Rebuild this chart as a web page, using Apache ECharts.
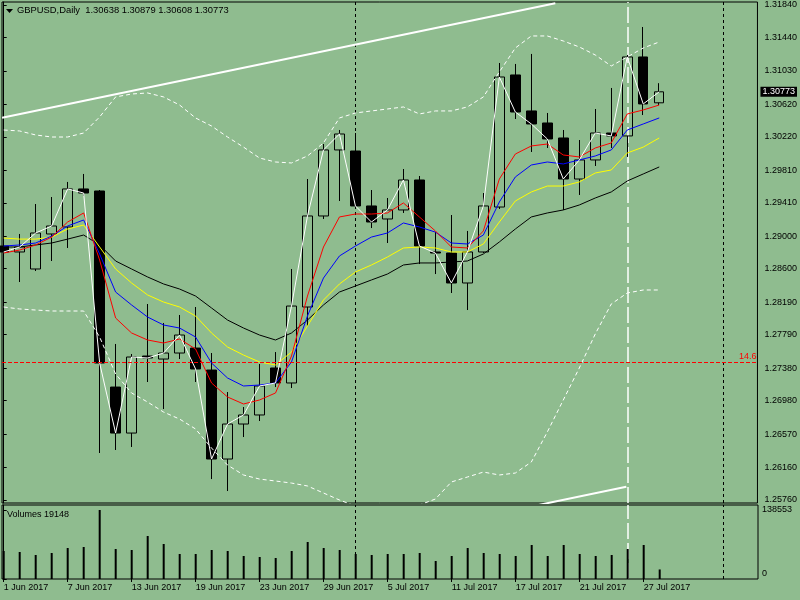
<!DOCTYPE html>
<html>
<head>
<meta charset="utf-8">
<title>GBPUSD,Daily</title>
<script src="https://cdn.jsdelivr.net/npm/echarts@6.0.0/dist/echarts.min.js"></script>
<style>
  html, body { margin: 0; padding: 0; background: #8fbc8f; }
  #main { width: 800px; height: 600px; }
</style>
</head>
<body>
<div id="main"></div>
<script>
// bars, 1 Jun - 28 Jul 2017
var dates = ['1 Jun 2017','2 Jun 2017','5 Jun 2017','6 Jun 2017','7 Jun 2017','8 Jun 2017','9 Jun 2017',
  '12 Jun 2017','13 Jun 2017','14 Jun 2017','15 Jun 2017','16 Jun 2017','19 Jun 2017','20 Jun 2017',
  '21 Jun 2017','22 Jun 2017','23 Jun 2017','26 Jun 2017','27 Jun 2017','28 Jun 2017','29 Jun 2017',
  '30 Jun 2017','3 Jul 2017','4 Jul 2017','5 Jul 2017','6 Jul 2017','7 Jul 2017','10 Jul 2017',
  '11 Jul 2017','12 Jul 2017','13 Jul 2017','14 Jul 2017','17 Jul 2017','18 Jul 2017','19 Jul 2017',
  '20 Jul 2017','21 Jul 2017','24 Jul 2017','25 Jul 2017','26 Jul 2017','27 Jul 2017','28 Jul 2017'];

var opens  = [1.28879,1.28806,1.28597,1.29027,1.29113,1.29580,1.29555,1.27147,1.26582,1.27528,1.27491,1.27565,1.27626,1.27356,
              1.26263,1.26693,1.26804,1.27381,1.27197,1.28130,1.29248,1.30059,1.30046,1.29371,1.29211,1.29322,1.29690,1.28806,
              1.28793,1.28425,1.28806,1.29358,1.30980,1.30538,1.30390,1.30206,1.29702,1.29936,1.30267,1.30231,1.31201,1.30638];
var highs  = [1.29137,1.29027,1.29395,1.29481,1.29666,1.29764,1.29567,1.27676,1.27553,1.28167,1.27934,1.28032,1.28130,1.27565,
              1.27086,1.26902,1.27430,1.27577,1.28597,1.29702,1.30132,1.30304,1.30267,1.29567,1.29469,1.29825,1.29739,1.29051,
              1.29260,1.29064,1.29530,1.31127,1.31115,1.31238,1.30513,1.30304,1.30181,1.30562,1.30820,1.31225,1.31569,1.30879];
var lows   = [1.28302,1.28437,1.28572,1.28695,1.28855,1.29494,1.26337,1.26374,1.26411,1.27209,1.26877,1.27491,1.27209,1.26017,
              1.25870,1.26533,1.26730,1.27147,1.27135,1.27897,1.29211,1.29432,1.29358,1.29100,1.28916,1.29285,1.28658,1.28535,
              1.28302,1.28093,1.28793,1.29334,1.30439,1.30034,1.30083,1.29322,1.29506,1.29862,1.30083,1.29973,1.30488,1.30608];
var closes = [1.28806,1.28867,1.29039,1.29125,1.29580,1.29530,1.27442,1.26582,1.27516,1.27504,1.27565,1.27786,1.27369,1.26263,
              1.26693,1.26804,1.27160,1.27197,1.28142,1.29248,1.30059,1.30255,1.29371,1.29174,1.29322,1.29690,1.28879,1.28793,
              1.28425,1.28806,1.29371,1.30955,1.30525,1.30378,1.30194,1.29702,1.29936,1.30267,1.30231,1.31201,1.30624,1.30773];

var volumes = [56200,54200,48200,52200,62200,64300,138553,60200,58200,86300,70300,50200,50200,58200,
               56200,46200,44200,42200,56200,74300,62200,58200,50200,48200,50200,50200,52200,36100,
               46200,62200,52200,50200,46200,68300,46200,68300,50200,46200,48200,60200,68300,19148];

// moving averages
var maRed    = [1.28793,1.28830,1.28892,1.28989,1.29174,1.29285,1.28707,1.27995,1.27811,1.27725,1.27688,1.27737,1.27614,1.27197,
                1.27025,1.26939,1.26988,1.27074,1.27528,1.28265,1.28867,1.29236,1.29272,1.29272,1.29285,1.29408,1.29236,1.29064,
                1.28867,1.28855,1.29064,1.29702,1.30009,1.30108,1.30132,1.29997,1.29973,1.30083,1.30145,1.30501,1.30550,1.30611];
var maBlue   = [1.28879,1.28892,1.28916,1.29001,1.29125,1.29199,1.28781,1.28314,1.28155,1.28007,1.27909,1.27872,1.27762,1.27442,
                1.27258,1.27160,1.27172,1.27197,1.27455,1.28020,1.28486,1.28757,1.28879,1.28989,1.29039,1.29162,1.29113,1.29050,
                1.28916,1.28904,1.29014,1.29420,1.29727,1.29874,1.29911,1.29887,1.29936,1.29985,1.30059,1.30304,1.30378,1.30452];
var maYellow = [1.28977,1.28964,1.28964,1.28989,1.29088,1.29137,1.28867,1.28597,1.28425,1.28278,1.28191,1.28130,1.28020,1.27811,
                1.27639,1.27540,1.27455,1.27418,1.27577,1.27897,1.28216,1.28413,1.28560,1.28646,1.28744,1.28855,1.28867,1.28855,
                1.28806,1.28806,1.28904,1.29174,1.29432,1.29543,1.29616,1.29616,1.29666,1.29776,1.29813,1.30022,1.30094,1.30206];
var maBlack  = [1.28867,1.28867,1.28892,1.28916,1.28964,1.29014,1.28892,1.28695,1.28597,1.28499,1.28413,1.28351,1.28265,1.28118,
                1.27970,1.27872,1.27786,1.27725,1.27811,1.27970,1.28155,1.28314,1.28388,1.28462,1.28535,1.28646,1.28671,1.28671,
                1.28683,1.28695,1.28781,1.28929,1.29088,1.29236,1.29285,1.29322,1.29383,1.29469,1.29543,1.29678,1.29764,1.29850];

// bollinger bands
var bandUpper = [1.30304,1.30292,1.30243,1.30218,1.30218,1.30267,1.30464,1.30710,1.30746,1.30759,1.30710,1.30611,1.30452,1.30353,
                 1.30218,1.30094,1.29960,1.29911,1.29899,1.29985,1.30145,1.30452,1.30513,1.30538,1.30562,1.30587,1.30501,1.30538,
                 1.30538,1.30587,1.30710,1.31017,1.31311,1.31459,1.31459,1.31397,1.31324,1.31225,1.31090,1.31201,1.31311,1.31385];
var bandLower = [1.28130,1.28106,1.28093,1.28081,1.28081,1.28081,1.27762,1.27307,1.27074,1.26963,1.26840,1.26754,1.26632,1.26398,
                 1.26189,1.26067,1.26017,1.25993,1.25968,1.25932,1.25846,1.25760,1.25686,1.25649,1.25637,1.25661,1.25698,1.25772,
                 1.25981,1.26042,1.26103,1.26067,1.26091,1.26226,1.26595,1.26988,1.27381,1.27799,1.28167,1.28302,1.28339,1.28339];

// drawn objects
var trendTop = [[-0.1, 1.30455], [34.5, 1.31860]];
var trendBottom = [[33, 1.25680], [38.94, 1.25923]];
var hLevel = 1.27455;
var separators = [22, 45];
var vLineWhite = 39;

// axis labels
var priceTicks = [1.31840,1.31440,1.31030,1.30620,1.30220,1.29810,1.29410,1.29000,1.28600,1.28190,1.27790,1.27380,1.26980,1.26570,1.26160,1.25760];
var volumeTicks = [0, 138553];
var labelBars = [0,4,8,12,16,20,24,28,32,36,40];

var font = 'Liberation Sans';
var bg = '#8fbc8f';

var candleData = dates.map(function (d, i) { return [i, opens[i], closes[i], lows[i], highs[i]]; });
function pairs(arr) { return arr.map(function (v, i) { return [i, v]; }); }

var myChart = echarts.init(document.getElementById('main'));

function maLine(name, data, color) {
  return {
    name: name, type: 'line', xAxisIndex: 0, yAxisIndex: 0,
    data: pairs(data), symbol: 'none', z: 4, silent: true,
    lineStyle: { color: color, width: 1 }
  };
}
function bandLine(name, data) {
  return {
    name: name, type: 'line', xAxisIndex: 0, yAxisIndex: 0,
    data: pairs(data), symbol: 'none', z: 4, silent: true,
    lineStyle: { color: '#fff', width: 1, type: [4, 3] }
  };
}
// period separators + white vertical line, used in both panels
function vLines() {
  return separators.map(function (x) {
    return { xAxis: x, lineStyle: { color: '#000', width: 1, type: [3, 3] } };
  }).concat([{ xAxis: vLineWhite, lineStyle: { color: '#fff', width: 1.5, type: [16, 4] } }]);
}

var xMin = -0.106, xMax = 47.144;

var option = {
  backgroundColor: bg,
  animation: false,
  title: [
    { text: 'GBPUSD,Daily  1.30638 1.30879 1.30608 1.30773', left: 17, top: 6, padding: 0,
      textStyle: { fontFamily: font, fontSize: 9.4, fontWeight: 'normal', color: '#000' } },
    { text: 'Volumes 19148', left: 7, top: 510, padding: 0,
      textStyle: { fontFamily: font, fontSize: 9, fontWeight: 'normal', color: '#000' } }
  ],
  graphic: [
    { type: 'polygon', shape: { points: [[6, 9], [13, 9], [9.5, 13]] }, style: { fill: '#000' } }
  ],
  grid: [
    { left: 2, right: 42, top: 2, bottom: 97, show: true, borderColor: '#000', borderWidth: 1, backgroundColor: 'transparent' },
    { left: 2, right: 42, top: 505, bottom: 21, show: true, borderColor: '#000', borderWidth: 1, backgroundColor: 'transparent' }
  ],
  xAxis: [
    { type: 'value', gridIndex: 0, min: xMin, max: xMax, show: false },
    { type: 'value', gridIndex: 1, min: xMin, max: xMax,
      axisLine: { show: false },
      splitLine: { show: false },
      axisTick: { show: true, customValues: labelBars, length: 3, lineStyle: { color: '#000' } },
      axisLabel: { customValues: labelBars, margin: 4, align: 'left', color: '#000', fontFamily: font, fontSize: 9,
        formatter: function (v) { return dates[Math.round(v)]; } } }
  ],
  yAxis: [
    { type: 'value', gridIndex: 0, position: 'right', min: 1.25723, max: 1.31876,
      splitLine: { show: false },
      axisLine: { show: true, lineStyle: { color: '#000' } },
      axisTick: { show: true, customValues: priceTicks, length: 3, lineStyle: { color: '#000' } },
      axisLabel: { customValues: priceTicks, margin: 7, color: '#000', fontFamily: font, fontSize: 9,
        formatter: function (v) { return v.toFixed(5); } } },
    { type: 'value', gridIndex: 1, position: 'right', min: 0, max: 148593,
      splitLine: { show: false },
      axisLine: { show: true, lineStyle: { color: '#000' } },
      axisTick: { show: true, customValues: volumeTicks, length: 3, lineStyle: { color: '#000' } },
      axisLabel: { customValues: volumeTicks, margin: 4, color: '#000', fontFamily: font, fontSize: 9,
        formatter: function (v) { return v === 0 ? '{z|0}' : String(v); },
        rich: { z: { fontFamily: font, fontSize: 9, color: '#000', padding: [0, 0, 11, 0] } } } }
  ],
  series: [
    {
      name: 'GBPUSD', type: 'candlestick', xAxisIndex: 0, yAxisIndex: 0,
      data: candleData, encode: { x: 0, y: [1, 2, 3, 4] },
      barWidth: 10, z: 3, silent: true,
      itemStyle: { color: 'rgba(0,0,0,0)', color0: '#000', borderColor: '#000', borderColor0: '#000', borderWidth: 1 }
    },
    {
      name: 'trendTop', type: 'line', xAxisIndex: 0, yAxisIndex: 0,
      data: trendTop, symbol: 'none', z: 5, silent: true,
      lineStyle: { color: '#fff', width: 2 },
      markLine: {
        silent: true, symbol: ['none', 'none'], z: 1, precision: 5, animation: false,
        label: { show: false },
        data: vLines()
      }
    },
    {
      name: 'trendBottom', type: 'line', xAxisIndex: 0, yAxisIndex: 0,
      data: trendBottom, symbol: 'none', z: 5, silent: true,
      lineStyle: { color: '#fff', width: 2 }
    },
    bandLine('upper', bandUpper),
    bandLine('lower', bandLower),
    maLine('black', maBlack, '#000'),
    maLine('yellow', maYellow, '#ffff00'),
    maLine('blue', maBlue, '#0000ff'),
    maLine('red', maRed, '#ff0000'),
    {
      name: 'close', type: 'line', xAxisIndex: 0, yAxisIndex: 0,
      data: pairs(closes), symbol: 'none', z: 4, silent: true,
      lineStyle: { color: '#fff', width: 1 },
      markLine: {
        silent: true, symbol: ['none', 'none'], z: 10, precision: 5, animation: false,
        data: [
          { yAxis: hLevel, lineStyle: { color: '#ff0000', width: 1, type: [4, 2] },
            label: { show: true, position: 'insideEndTop', formatter: '14.6', distance: 1,
              color: '#ff0000', fontFamily: font, fontSize: 9 } },
          { yAxis: closes[closes.length - 1], lineStyle: { color: 'rgba(0,0,0,0)', width: 0 },
            label: { show: true, position: 'end', formatter: closes[closes.length - 1].toFixed(5), distance: 3,
              color: '#fff', backgroundColor: '#000', padding: [1, 2, 0, 2], fontFamily: font, fontSize: 9 } }
        ]
      }
    },
    {
      name: 'Volumes', type: 'bar', xAxisIndex: 1, yAxisIndex: 1,
      data: pairs(volumes), barWidth: 2, z: 3, silent: true,
      itemStyle: { color: '#000' },
      markLine: {
        silent: true, symbol: ['none', 'none'], z: 1, precision: 5, animation: false,
        label: { show: false },
        data: vLines()
      }
    }
  ]
};
myChart.setOption(option);
</script>
</body>
</html>
